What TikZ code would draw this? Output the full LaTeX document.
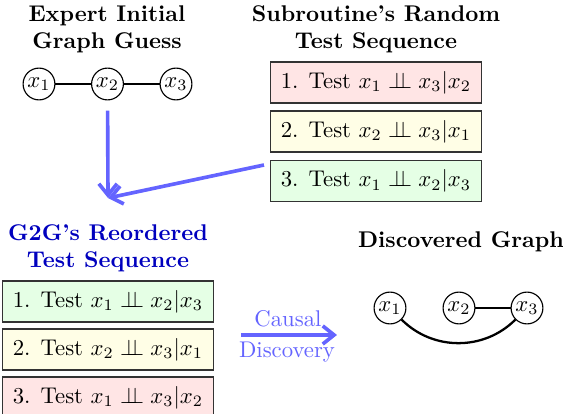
\documentclass[tikz,border=0pt]{standalone}
\usepackage{amsmath,amssymb}
\usetikzlibrary{arrows.meta}
\newcommand{\indep}{\perp\!\!\!\perp}
\definecolor{arrowblue}{RGB}{100,100,255}
\definecolor{titleblue}{RGB}{0,0,190}
\begin{document}
\begin{tikzpicture}[x=0.44pt,y=-0.44pt,
  var/.style={draw,circle,inner sep=0pt,minimum size=14pt,line width=0.5pt},
  edge/.style={line width=1pt},
  testbox/.style={draw=black!80,line width=0.6pt,minimum width=93pt,minimum height=18pt,inner sep=2pt},
  ttl/.style={font=\bfseries,align=center},
  bluearrow/.style={draw=arrowblue,line width=1.6pt,-{Straight Barb[length=5pt,width=8pt]}}
]
\useasboundingbox (0,0) rectangle (563,414);
% titles
\node[ttl] (t1) at (107,29) {Expert Initial\\Graph Guess};
\node[ttl] (t2) at (376,29) {Subroutine's Random\\Test Sequence};
\node[ttl,text=titleblue] (t3) at (108,248) {G2G's Reordered\\Test Sequence};
\node[ttl] (t4) at (461,242) {Discovered Graph};
% initial graph
\node[var] (a1) at (39,84) {$x_1$};
\node[var] (a2) at (107.5,84) {$x_2$};
\node[var] (a3) at (176,84) {$x_3$};
\draw[edge] (a1) -- (a2);
\draw[edge] (a2) -- (a3);
% random sequence
\node[testbox,fill=red!10] (r1) at (376,82.5) {1. Test $x_1 \indep x_3|x_2$};
\node[testbox,fill=yellow!10] (r2) at (376,131.5) {2. Test $x_2 \indep x_3|x_1$};
\node[testbox,fill=green!10] (r3) at (376,181) {3. Test $x_1 \indep x_2|x_3$};
% arrows into reordering
\coordinate (m) at (108,198);
\coordinate (d) at (264,165);
\draw[bluearrow,shorten <=4.5pt] (a2) -- (m);
\draw[bluearrow] (d) -- (m);
% reordered sequence
\node[testbox,fill=green!10] (o1) at (108,301.5) {1. Test $x_1 \indep x_2|x_3$};
\node[testbox,fill=yellow!10] (o2) at (108,349.5) {2. Test $x_2 \indep x_3|x_1$};
\node[testbox,fill=red!10] (o3) at (108,397.5) {3. Test $x_1 \indep x_3|x_2$};
% causal discovery arrow
\coordinate (c1) at (241,335);
\coordinate (c2) at (337,335);
\draw[bluearrow] (c1) -- (c2);
\node[text=arrowblue] (cl1) at (288,319) {Causal};
\node[text=arrowblue] (cl2) at (287,352) {Discovery};
% discovered graph
\node[var] (b1) at (390,308) {$x_1$};
\node[var] (b2) at (459,308) {$x_2$};
\node[var] (b3) at (527,308) {$x_3$};
\draw[edge] (b2) -- (b3);
\draw[edge] (b1) to[bend right=45] (b3);
\end{tikzpicture}
\end{document}
